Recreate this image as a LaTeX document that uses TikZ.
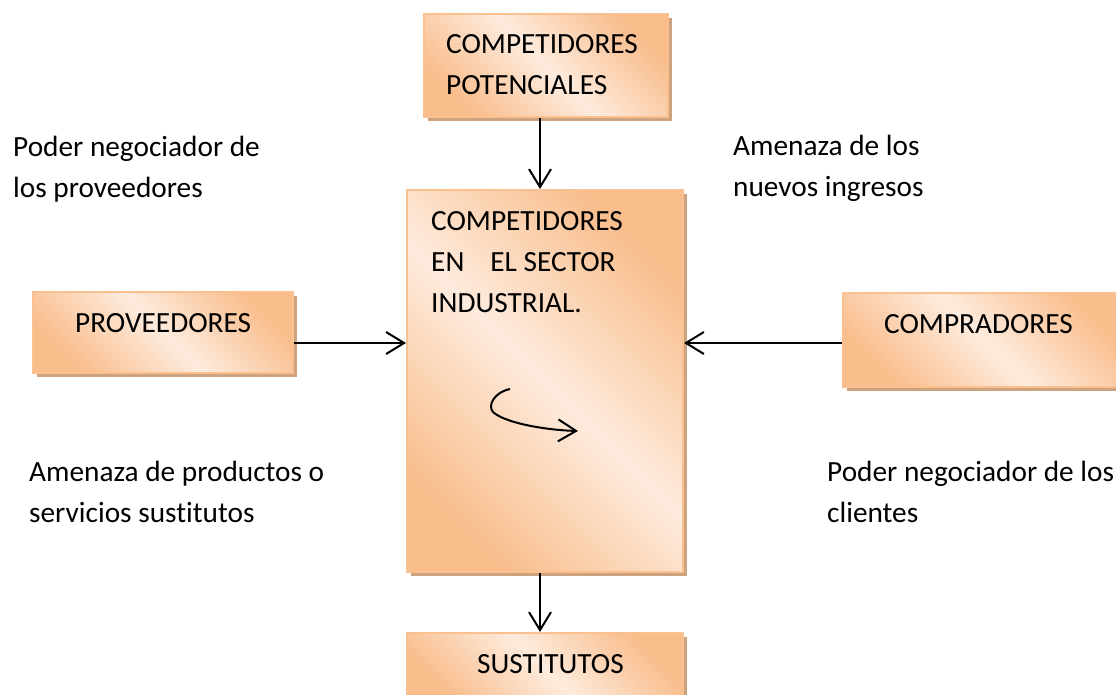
\documentclass[tikz,border=0pt]{standalone}
\usepackage{fontspec}
\setmainfont{Carlito}[Ligatures=NoCommon]
\usetikzlibrary{arrows.meta,shadows}
\definecolor{boxdark}{HTML}{F9BD8C}
\definecolor{boxlight}{HTML}{FDEBDD}
\definecolor{boxline}{HTML}{FAC090}
\definecolor{boxshadow}{HTML}{CCA27F}
\tikzset{
 box/.style={draw=boxline, line width=2pt, top color=boxdark, bottom color=boxdark, middle color=boxlight, shading angle=-45,
   drop shadow={shadow xshift=4pt, shadow yshift=-4pt, fill=boxshadow, opacity=1}, inner sep=0pt},
 txt/.style={font=\fontsize{29.3}{41}\selectfont, inner sep=0pt, align=left, anchor=base west},
 arr/.style={line width=2pt, -{Straight Barb[length=18pt,width=22pt,line width=2pt]}},
}
\begin{document}
\begin{tikzpicture}[x=1pt,y=-1pt]
\fill[white] (0,0) rectangle (1116,694);
\useasboundingbox (0,0) rectangle (1116,694);
% boxes
\node[box, minimum width=244pt, minimum height=103pt] (pot) at (546,65.5) {};
\node[box, minimum width=276pt, minimum height=382pt] (cen) at (545,381) {};
\node[box, minimum width=260pt, minimum height=81pt] (prov) at (163,332.5) {};
\node[box, minimum width=282pt, minimum height=94pt] (comp) at (984,340) {};
\node[box, minimum width=276pt, minimum height=72pt] (sust) at (545,669) {};
% helper coordinates
\coordinate (cx) at (540,0);
\coordinate (ay) at (0,343);
\coordinate (c1) at (510,389);
\coordinate (c2) at (578,431);
% connectors
\draw[arr] (pot.south -| cx) -- (cen.north -| cx);
\draw[arr] (prov.east |- ay) -- (cen.west |- ay);
\draw[arr] (comp.west |- ay) -- (cen.east |- ay);
\draw[arr] (cen.south -| cx) -- (sust.north -| cx);
\draw[line width=2pt, -{Straight Barb[length=18pt,width=22pt,line width=2pt]}]
  (c1) .. controls (495,392) and (487,405) .. (493,412) .. controls (505,423) and (545,430) .. (c2);
% texts in boxes (base anchor = baseline of last line)
\node[txt] (potT) at (446,94) {COMPETIDORES\\POTENCIALES};
\node[txt] (cenT) at (431,312) {COMPETIDORES\\EN\hspace{26pt}EL SECTOR\\INDUSTRIAL.};
\node[txt] (provT) at (75,332) {PROVEEDORES};
\node[txt] (compT) at (884,333) {COMPRADORES};
\node[txt] (sustT) at (477,673) {SUSTITUTOS};
% free labels
\node[txt] (l1) at (13,197) {Poder negociador de\\los proveedores};
\node[txt] (l2) at (733,196) {Amenaza de los\\nuevos ingresos};
\node[txt] (l3) at (29,522) {Amenaza de productos o\\servicios sustitutos};
\node[txt] (l4) at (827,522) {Poder negociador de los\\clientes};
\end{tikzpicture}
\end{document}
